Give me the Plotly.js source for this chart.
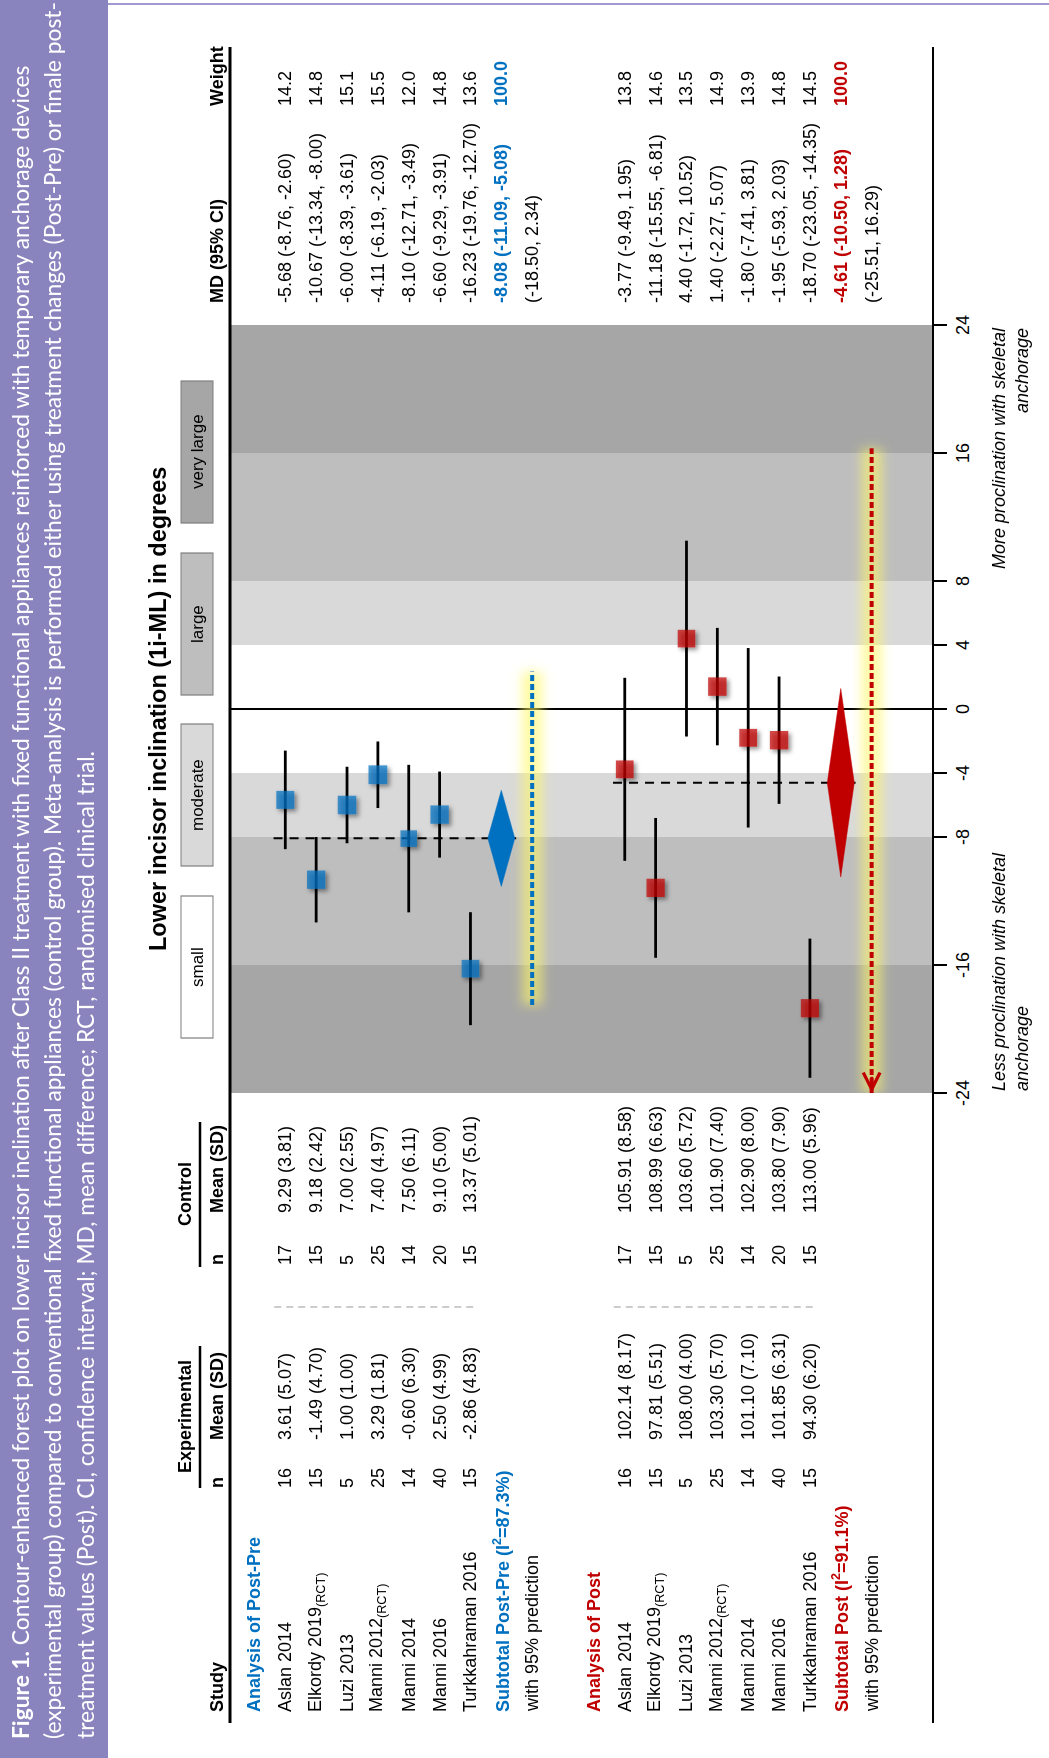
<!DOCTYPE html>
<html>
<head>
<meta charset="utf-8">
<script src="https://cdn.plot.ly/plotly-3.0.1.min.js"></script>
<style>
html, body { margin:0; padding:0; width:1049px; height:1758px; overflow:hidden; background:#fff; }
#wrap { position:absolute; left:0; top:0; width:1758px; height:1049px; transform-origin:0 0; transform: translateY(1758px) rotate(-90deg); }
#chart { width:1758px; height:1049px; }
</style>
</head>
<body>
<svg width="0" height="0" style="position:absolute">
  <defs>
    <filter id="glow" filterUnits="userSpaceOnUse" x="-3000" y="-3000" width="8000" height="8000">
      <feGaussianBlur stdDeviation="5.5"/>
    </filter>
    <filter id="shadow" filterUnits="userSpaceOnUse" x="-3000" y="-3000" width="8000" height="8000">
      <feDropShadow dx="-2.5" dy="2.5" stdDeviation="2" flood-color="#000" flood-opacity="0.6"/>
    </filter>
  </defs>
</svg>
<div id="wrap"><div id="chart"></div></div>
<script>
// ---------------- DATA ----------------
const studies = ["Aslan 2014", "Elkordy 2019<sub>(RCT)</sub>", "Luzi 2013", "Manni 2012<sub>(RCT)</sub>", "Manni 2014", "Manni 2016", "Turkkahraman 2016"];

// Analysis of Post-Pre
const ppExpN    = [16, 15, 5, 25, 14, 40, 15];
const ppExpMean = [3.61, -1.49, 1.00, 3.29, -0.60, 2.50, -2.86];
const ppExpSD   = [5.07, 4.70, 1.00, 1.81, 6.30, 4.99, 4.83];
const ppCtlN    = [17, 15, 5, 25, 14, 20, 15];
const ppCtlMean = [9.29, 9.18, 7.00, 7.40, 7.50, 9.10, 13.37];
const ppCtlSD   = [3.81, 2.42, 2.55, 4.97, 6.11, 5.00, 5.01];
const ppMD      = [-5.68, -10.67, -6.00, -4.11, -8.10, -6.60, -16.23];
const ppLo      = [-8.76, -13.34, -8.39, -6.19, -12.71, -9.29, -19.76];
const ppHi      = [-2.60, -8.00, -3.61, -2.03, -3.49, -3.91, -12.70];
const ppWeight  = [14.2, 14.8, 15.1, 15.5, 12.0, 14.8, 13.6];
const ppSummary = [-8.08, -11.09, -5.08];   // MD, lower, upper
const ppPredict = [-18.50, 2.34];
const ppI2 = 87.3;

// Analysis of Post
const poExpN    = [16, 15, 5, 25, 14, 40, 15];
const poExpMean = [102.14, 97.81, 108.00, 103.30, 101.10, 101.85, 94.30];
const poExpSD   = [8.17, 5.51, 4.00, 5.70, 7.10, 6.31, 6.20];
const poCtlN    = [17, 15, 5, 25, 14, 20, 15];
const poCtlMean = [105.91, 108.99, 103.60, 101.90, 102.90, 103.80, 113.00];
const poCtlSD   = [8.58, 6.63, 5.72, 7.40, 8.00, 7.90, 5.96];
const poMD      = [-3.77, -11.18, 4.40, 1.40, -1.80, -1.95, -18.70];
const poLo      = [-9.49, -15.55, -1.72, -2.27, -7.41, -5.93, -23.05];
const poHi      = [1.95, -6.81, 10.52, 5.07, 3.81, 2.03, -14.35];
const poWeight  = [13.8, 14.6, 13.5, 14.9, 13.9, 14.8, 14.5];
const poSummary = [-4.61, -10.50, 1.28];
const poPredict = [-25.51, 16.29];
const poI2 = 91.1;

const axisTicks   = [-24, -16, -8, -4, 0, 4, 8, 16, 24];
const contourCuts = [4, 8, 16, 24];
const contourLabels = ["small", "moderate", "large", "very large"];
const directionLabels = ["Less proclination with skeletal<br>anchorage", "More proclination with skeletal<br>anchorage"];

const captionBold = "Figure 1.";
const captionLines = [
  " Contour-enhanced forest plot on lower incisor inclination after Class II treatment with fixed functional appliances reinforced with temporary anchorage devices",
  "(experimental group) compared to conventional fixed functional appliances (control group). Meta-analysis is performed either using treatment changes (Post-Pre) or finale post-",
  "treatment values (Post). CI, confidence interval; MD, mean difference; RCT, randomised clinical trial."
];
const axisTitle = "Lower incisor inclination (1i-ML) in degrees";

// ---------------- LAYOUT CONSTANTS ----------------
const W = 1758, H = 1049;
const FONT = "Liberation Sans, Arial, Helvetica, sans-serif";
const CAPFONT = "Lato, 'Open Sans', sans-serif";
const BLUE = "#0070c0", RED = "#c00000";
const BAND = ["#ffffff", "#d9d9d9", "#bebebe", "#a6a6a6"];
const ROW0 = 285.3, STEP = 30.86, TOPV = 230, BOTV = 933;
const U_MIN = 665, U_MAX = 1433;
const px = u => u / W;
const py = v => 1 - v / H;

const groups = [
  {name: "Post-Pre", color: BLUE, start: 0, expN: ppExpN, expM: ppExpMean, expS: ppExpSD, ctlN: ppCtlN, ctlM: ppCtlMean, ctlS: ppCtlSD,
   md: ppMD, lo: ppLo, hi: ppHi, w: ppWeight, sum: ppSummary, pred: ppPredict, i2: ppI2},
  {name: "Post", color: RED, start: 11, expN: poExpN, expM: poExpMean, expS: poExpSD, ctlN: poCtlN, ctlM: poCtlMean, ctlS: poCtlSD,
   md: poMD, lo: poLo, hi: poHi, w: poWeight, sum: poSummary, pred: poPredict, i2: poI2}
];

const f2 = v => v.toFixed(2);
const xMin = axisTicks[0], xMax = axisTicks[axisTicks.length - 1];

// ---------------- ANNOTATIONS ----------------
const annotations = [];
function txt(text, x, y, o) {
  o = o || {};
  annotations.push({
    text: text, x: x, y: y,
    xref: o.xref || "paper", yref: o.yref || "y",
    xanchor: o.xa || "left", yanchor: "middle", align: o.align || "left",
    showarrow: false,
    font: {family: o.family || FONT, size: o.size || 18, color: o.color || "#000"}
  });
}

// column positions (u, pixels along unrotated width)
const C = {study: 44, expN: 268, expM: 316, ctlN: 491, ctlM: 543, md: 1453, w: 1650};
const HEADV = 217;
txt("<b>Study</b>", px(C.study), py(HEADV), {yref: "paper"});
txt("<b>n</b>", px(C.expN), py(HEADV), {yref: "paper"});
txt("<b>Mean (SD)</b>", px(C.expM), py(HEADV), {yref: "paper"});
txt("<b>n</b>", px(C.ctlN), py(HEADV), {yref: "paper"});
txt("<b>Mean (SD)</b>", px(C.ctlM), py(HEADV), {yref: "paper"});
txt("<b>MD (95% CI)</b>", px(C.md), py(HEADV), {yref: "paper"});
txt("<b>Weight</b>", px(C.w), py(HEADV), {yref: "paper"});
txt("<b>Experimental</b>", px(341), py(185), {yref: "paper", xa: "center"});
txt("<b>Control</b>", px(563.5), py(185), {yref: "paper", xa: "center"});

groups.forEach(g => {
  txt("<b>Analysis of " + g.name + "</b>", px(C.study), g.start - 1, {color: g.color});
  studies.forEach((s, k) => {
    const r = g.start + k;
    txt(s, px(C.study), r);
    txt(String(g.expN[k]), px(C.expN), r);
    txt(f2(g.expM[k]) + " (" + f2(g.expS[k]) + ")", px(C.expM), r);
    txt(String(g.ctlN[k]), px(C.ctlN), r);
    txt(f2(g.ctlM[k]) + " (" + f2(g.ctlS[k]) + ")", px(C.ctlM), r);
    txt(f2(g.md[k]) + " (" + f2(g.lo[k]) + ", " + f2(g.hi[k]) + ")", px(C.md), r);
    txt(g.w[k].toFixed(1), px(C.w), r);
  });
  const rs = g.start + studies.length;
  const wsum = g.w.reduce((a, b) => a + b, 0);
  txt("<b>Subtotal " + g.name + " (I<sup>2</sup>=" + g.i2.toFixed(1) + "%)</b>", px(C.study), rs, {color: g.color});
  txt("<b>" + f2(g.sum[0]) + " (" + f2(g.sum[1]) + ", " + f2(g.sum[2]) + ")</b>", px(C.md), rs, {color: g.color});
  txt("<b>" + wsum.toFixed(1) + "</b>", px(C.w), rs, {color: g.color});
  txt("with 95% prediction", px(C.study), rs + 1);
  txt("(" + f2(g.pred[0]) + ", " + f2(g.pred[1]) + ")", px(C.md), rs + 1);
});

// axis title and direction labels
txt("<b>" + axisTitle + "</b>", px((U_MIN + U_MAX) / 2), py(158), {yref: "paper", xa: "center", size: 23.5});
annotations.push({text: "<i>" + directionLabels[0] + "</i>", x: xMin, y: py(1010), xref: "x", yref: "paper",
  xanchor: "left", yanchor: "middle", align: "left", showarrow: false, font: {family: FONT, size: 18, color: "#000"}});
annotations.push({text: "<i>" + directionLabels[1] + "</i>", x: xMax, y: py(1010), xref: "x", yref: "paper",
  xanchor: "right", yanchor: "middle", align: "right", showarrow: false, font: {family: FONT, size: 18, color: "#000"}});

// ---------------- SHAPES ----------------
const shapes = [];
// contour bands
for (let b = 1; b < contourCuts.length; b++) {
  [[contourCuts[b - 1], contourCuts[b]], [-contourCuts[b], -contourCuts[b - 1]]].forEach(p => {
    shapes.push({type: "rect", xref: "x", yref: "paper", x0: p[0], x1: p[1], y0: py(BOTV), y1: py(TOPV),
      fillcolor: BAND[b], line: {width: 0}, layer: "below"});
  });
}
// legend of contour magnitudes
const legU = [720, 892, 1063, 1235];
contourLabels.forEach((lab, k) => {
  shapes.push({type: "rect", xref: "paper", yref: "paper", x0: px(legU[k]), x1: px(legU[k] + 142), y0: py(213), y1: py(181),
    fillcolor: BAND[k], line: {color: "#7f7f7f", width: 1.2}, layer: "above"});
  txt(lab, px(legU[k] + 71), py(197), {yref: "paper", xa: "center", size: 17});
});
function seg(u0, v0, u1, v1, color, width, dash) {
  shapes.push({type: "line", xref: "paper", yref: "paper", x0: px(u0), y0: py(v0), x1: px(u1), y1: py(v1),
    line: {color: color, width: width, dash: dash || "solid"}, layer: "above"});
}
// caption band
shapes.push({type: "rect", xref: "paper", yref: "paper", x0: 0, x1: 1, y0: py(108), y1: 1, fillcolor: "#8a84be", line: {width: 0}, layer: "below"});
seg(1754, 108, 1754, H, "#9f99cf", 2);
// table rules
seg(35, TOPV, 1711, TOPV, "#000", 3);
seg(35, BOTV, 1711, BOTV, "#000", 2.2);
seg(270, 200, 412, 200, "#000", 2.5);
seg(491, 200, 636, 200, "#000", 2.5);
groups.forEach(g => {
  const a = ROW0 + STEP * g.start - 11, b = ROW0 + STEP * (g.start + studies.length - 1) + 7;
  seg(451, a, 451, b, "#cccccc", 2, "7px,5px");
});

// caption text, size fitted to the reference line lengths
(function () {
  const cv = document.createElement("canvas").getContext("2d");
  const targets = [1699, 1732, 980];
  let sizes = [];
  captionLines.forEach((line, k) => {
    cv.font = "100px Lato";
    let wdt = cv.measureText(line).width;
    if (k === 0) { cv.font = "bold 100px Lato"; wdt += cv.measureText(captionBold).width; }
    sizes.push(100 * targets[k] / wdt);
  });
  const sz = sizes.reduce((a, b) => a + b, 0) / sizes.length;
  const capV = [20.5, 53, 85.5];
  captionLines.forEach((line, k) => {
    txt((k === 0 ? "<b>" + captionBold + "</b>" : "") + line, px(17), py(capV[k]), {yref: "paper", size: sz, color: "#ffffff", family: CAPFONT});
  });
})();

// ---------------- TRACES ----------------
const traces = [];
const DH = 0.437; // diamond half height (rows)
const clip = v => Math.max(xMin, Math.min(xMax, v));
// glows
groups.forEach(g => {
  const r = g.start + studies.length + 1;
  traces.push({type: "scatter", mode: "lines", x: [clip(g.pred[0]), clip(g.pred[1])], y: [r, r],
    line: {color: "rgba(255,248,100,0.58)", width: 21}, hoverinfo: "skip", showlegend: false});
});
// prediction intervals
groups.forEach(g => {
  const r = g.start + studies.length + 1;
  traces.push({type: "scatter", mode: "lines", x: [clip(g.pred[0]), clip(g.pred[1])], y: [r, r],
    line: {color: g.color, width: 4, dash: "6px,3px"}, hoverinfo: "skip", showlegend: false});
});
// reference dashed lines at the pooled estimate
groups.forEach(g => {
  traces.push({type: "scatter", mode: "lines", x: [g.sum[0], g.sum[0]], y: [g.start - 0.38, g.start + studies.length + 0.48],
    line: {color: "#000", width: 2, dash: "9px,7px"}, hoverinfo: "skip", showlegend: false});
});
// confidence intervals
groups.forEach(g => {
  const x = [], y = [];
  g.md.forEach((m, k) => { x.push(g.lo[k], g.hi[k], null); y.push(g.start + k, g.start + k, null); });
  traces.push({type: "scatter", mode: "lines", x: x, y: y, line: {color: "#000", width: 2.8}, hoverinfo: "skip", showlegend: false});
});
// diamonds
groups.forEach(g => {
  const r = g.start + studies.length;
  traces.push({type: "scatter", mode: "lines", x: [g.sum[1], g.sum[0], g.sum[2], g.sum[0], g.sum[1]],
    y: [r, r - DH, r, r + DH, r], fill: "toself", fillcolor: g.color, line: {color: g.color, width: 0.5},
    hoverinfo: "skip", showlegend: false});
});
// study boxes
groups.forEach(g => {
  traces.push({type: "scatter", mode: "markers", x: g.md, y: g.md.map((m, k) => g.start + k),
    marker: {symbol: "square", color: g.color, size: g.w.map(w => 18.5 * Math.sqrt(w / 15)), line: {width: 0}},
    hoverinfo: "skip", showlegend: false});
});

// arrow for prediction interval beyond axis
groups.forEach(g => {
  const r = g.start + studies.length + 1;
  if (g.pred[0] < xMin) {
    annotations.push({x: xMin, y: r, ax: xMin + 1.2, ay: r, xref: "x", yref: "y", axref: "x", ayref: "y",
      text: " ", showarrow: true, arrowhead: 5, arrowsize: 1.1, arrowwidth: 3, arrowcolor: g.color, standoff: 0});
  }
  if (g.pred[1] > xMax) {
    annotations.push({x: xMax, y: r, ax: xMax - 1.2, ay: r, xref: "x", yref: "y", axref: "x", ayref: "y",
      text: " ", showarrow: true, arrowhead: 5, arrowsize: 1.1, arrowwidth: 3, arrowcolor: g.color, standoff: 0});
  }
});

const layout = {
  width: W, height: H,
  margin: {l: 0, r: 0, t: 0, b: 0, pad: 0},
  paper_bgcolor: "#ffffff", plot_bgcolor: "rgba(0,0,0,0)",
  showlegend: false,
  xaxis: {domain: [px(U_MIN), px(U_MAX)], range: [xMin, xMax], anchor: "y",
    tickmode: "array", tickvals: axisTicks, ticktext: axisTicks.map(String),
    ticks: "outside", ticklen: 13, tickwidth: 2, tickcolor: "#000",
    tickfont: {family: FONT, size: 18, color: "#000"},
    showline: false, showgrid: false, zeroline: true, zerolinecolor: "#000", zerolinewidth: 2, fixedrange: true},
  yaxis: {domain: [py(BOTV), py(TOPV)], range: [(BOTV - ROW0) / STEP, (TOPV - ROW0) / STEP],
    visible: false, showgrid: false, zeroline: false, fixedrange: true},
  shapes: shapes,
  annotations: annotations
};

const gd = document.getElementById("chart");
Plotly.newPlot(gd, traces, layout, {displayModeBar: false, staticPlot: true}).then(() => {
  const tr = gd.querySelectorAll(".scatterlayer .trace");
  if (tr.length >= 12) {
    tr[0].setAttribute("filter", "url(#glow)");
    tr[1].setAttribute("filter", "url(#glow)");
    tr[10].setAttribute("filter", "url(#shadow)");
    tr[11].setAttribute("filter", "url(#shadow)");
  }
});
</script>
</body>
</html>
